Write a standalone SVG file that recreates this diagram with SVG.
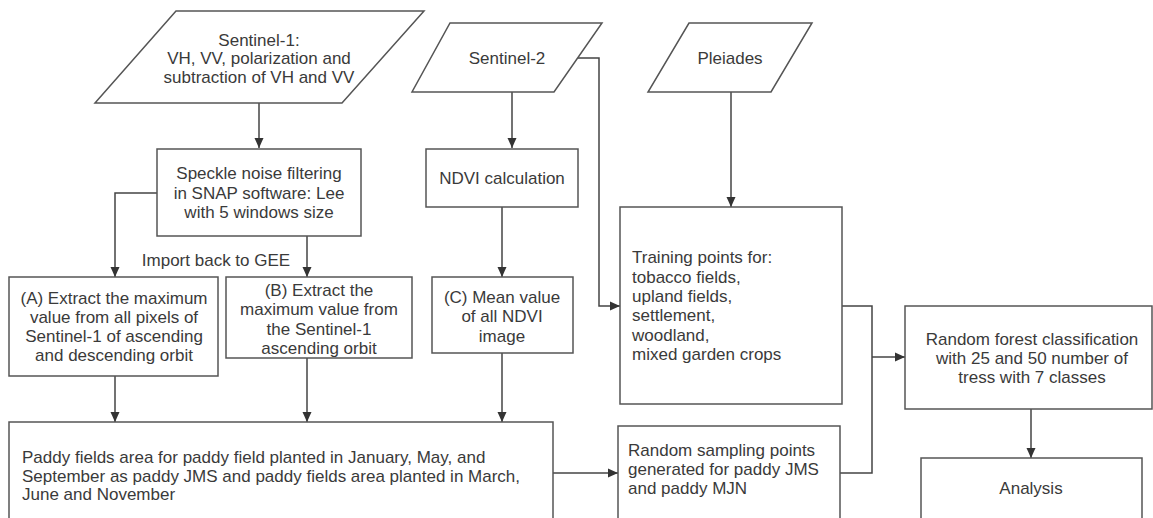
<svg xmlns="http://www.w3.org/2000/svg" width="1153" height="518" viewBox="0 0 1153 518">
<style>
.shape{fill:#fff;stroke:#555;stroke-width:1.5}
.conn{fill:none;stroke:#444;stroke-width:1.5}
text{font-family:"Liberation Sans",Arial,sans-serif;font-size:17px;fill:#3a3a3a}
.c{text-anchor:middle}
</style>
<defs>
<marker id="ah" markerUnits="userSpaceOnUse" markerWidth="10" markerHeight="10" viewBox="0 0 10 10" refX="10" refY="5" orient="auto">
<path d="M0,0.5 L10,5 L0,9.5 Z" fill="#333"/>
</marker>
</defs>
<rect width="1153" height="518" fill="#fff"/>
<g id="connectors">
<path class="conn" d="M259,103 V148" marker-end="url(#ah)"/>
<path class="conn" d="M157,193 H115 V277" marker-end="url(#ah)"/>
<path class="conn" d="M307,236 V277" marker-end="url(#ah)"/>
<path class="conn" d="M115,376 V422" marker-end="url(#ah)"/>
<path class="conn" d="M307,358 V422" marker-end="url(#ah)"/>
<path class="conn" d="M512,92 V148" marker-end="url(#ah)"/>
<path class="conn" d="M502,207 V277" marker-end="url(#ah)"/>
<path class="conn" d="M502,353 V422" marker-end="url(#ah)"/>
<path class="conn" d="M578,58 H599 V306 H620" marker-end="url(#ah)"/>
<path class="conn" d="M731,92 V207" marker-end="url(#ah)"/>
<path class="conn" d="M553,473 H618" marker-end="url(#ah)"/>
<path class="conn" d="M842,306 H872 V473 H840"/>
<path class="conn" d="M872,357 H905" marker-end="url(#ah)"/>
<path class="conn" d="M1031,409 V458" marker-end="url(#ah)"/>
<text class="c" x="216" y="266">Import back to GEE</text>
</g>
<g id="sentinel1">
<polygon class="shape" points="176,11 424,11 342,103 95,103"/>
<text class="c" x="259" y="46">Sentinel-1:</text>
<text class="c" x="259" y="64">VH, VV, polarization and</text>
<text class="c" x="259" y="83">subtraction of VH and VV</text>
</g>
<g id="speckle">
<rect class="shape" x="157" y="149" width="204" height="87"/>
<text class="c" x="259" y="179">Speckle noise filtering</text>
<text class="c" x="259" y="199">in SNAP software: Lee</text>
<text class="c" x="259" y="218">with 5 windows size</text>
</g>
<g id="boxA">
<rect class="shape" x="9" y="277" width="209" height="99"/>
<text class="c" x="114" y="304">(A) Extract the maximum</text>
<text class="c" x="114" y="323">value from all pixels of</text>
<text class="c" x="114" y="342">Sentinel-1 of ascending</text>
<text class="c" x="114" y="361">and descending orbit</text>
</g>
<g id="boxB">
<rect class="shape" x="226" y="277" width="186" height="81"/>
<text class="c" x="319" y="296">(B) Extract the</text>
<text class="c" x="319" y="315">maximum value from</text>
<text class="c" x="319" y="335">the Sentinel-1</text>
<text class="c" x="319" y="354">ascending orbit</text>
</g>
<g id="sentinel2">
<polygon class="shape" points="450,23 602,23 554,92 412,92"/>
<text class="c" x="507" y="64">Sentinel-2</text>
</g>
<g id="ndvi">
<rect class="shape" x="426" y="149" width="152" height="58"/>
<text class="c" x="502" y="184">NDVI calculation</text>
</g>
<g id="boxC">
<rect class="shape" x="432" y="277" width="141" height="76"/>
<text class="c" x="502" y="303">(C) Mean value</text>
<text class="c" x="502" y="322">of all NDVI</text>
<text class="c" x="502" y="342">image</text>
</g>
<g id="pleiades">
<polygon class="shape" points="689,23 812,23 771,92 648,92"/>
<text class="c" x="730" y="64">Pleiades</text>
</g>
<g id="training">
<rect class="shape" x="620" y="207" width="222" height="197"/>
<text x="632" y="263">Training points for:</text>
<text x="632" y="283">tobacco fields,</text>
<text x="632" y="302">upland fields,</text>
<text x="632" y="321">settlement,</text>
<text x="632" y="341">woodland,</text>
<text x="632" y="360">mixed garden crops</text>
</g>
<g id="paddy">
<rect class="shape" x="9" y="422" width="544" height="110"/>
<text x="22" y="463">Paddy fields area for paddy field planted in January, May, and</text>
<text x="22" y="482">September as paddy JMS and paddy fields area planted in March,</text>
<text x="22" y="500">June and November</text>
</g>
<g id="sampling">
<rect class="shape" x="618" y="426" width="222" height="106"/>
<text x="628" y="456">Random sampling points</text>
<text x="628" y="475">generated for paddy JMS</text>
<text x="628" y="494">and paddy MJN</text>
</g>
<g id="rf">
<rect class="shape" x="905" y="306" width="247" height="103"/>
<text class="c" x="1032" y="345">Random forest classification</text>
<text class="c" x="1032" y="364">with 25 and 50 number of</text>
<text class="c" x="1032" y="383">tress with 7 classes</text>
</g>
<g id="analysis">
<rect class="shape" x="921" y="458" width="221" height="74"/>
<text class="c" x="1031" y="494">Analysis</text>
</g>
</svg>
